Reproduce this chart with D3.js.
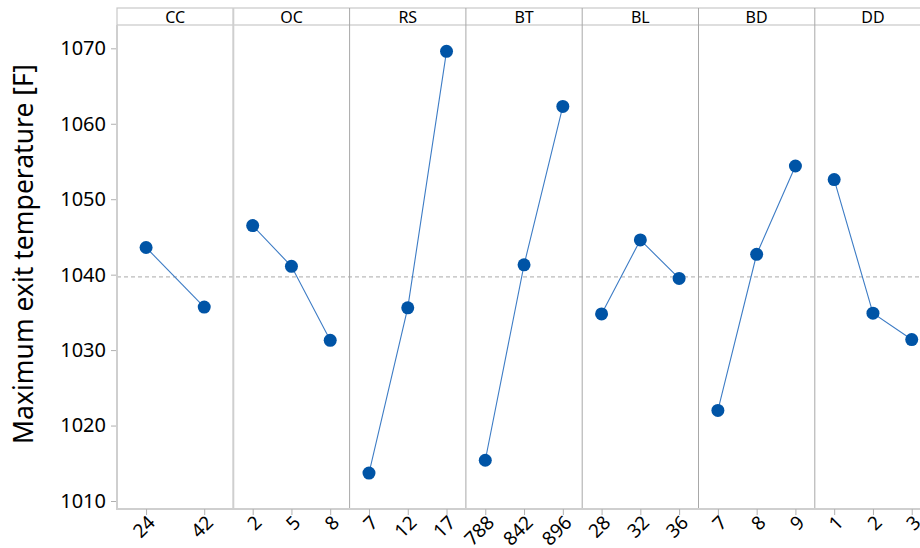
<!DOCTYPE html>
<html>
<head>
<meta charset="utf-8">
<script src="https://cdn.jsdelivr.net/npm/d3@7"></script>
<style>
  html, body { margin: 0; padding: 0; background: #fff; }
  svg { display: block; font-family: "Noto Sans", "Open Sans", sans-serif; }
</style>
</head>
<body>
<svg id="chart" width="920" height="548"></svg>
<script>
// Main effects of each factor on the maximum exit temperature
const factors = ["CC", "OC", "RS", "BT", "BL", "BD", "DD"];
const levelsCC = ["24", "42"];
const levelsOC = ["2", "5", "8"];
const levelsRS = ["7", "12", "17"];
const levelsBT = ["788", "842", "896"];
const levelsBL = ["28", "32", "36"];
const levelsBD = ["7", "8", "9"];
const levelsDD = ["1", "2", "3"];

const meansCC = [1043.6, 1035.7];
const meansOC = [1046.5, 1041.1, 1031.3];
const meansRS = [1013.7, 1035.6, 1069.6];
const meansBT = [1015.4, 1041.3, 1062.3];
const meansBL = [1034.8, 1044.6, 1039.5];
const meansBD = [1022.0, 1042.7, 1054.4];
const meansDD = [1052.6, 1034.9, 1031.4];

const grandMean = 1039.7;
const yTicks = [1010, 1020, 1030, 1040, 1050, 1060, 1070];
const yTitle = "Maximum exit temperature [F]";

const levelSets = [levelsCC, levelsOC, levelsRS, levelsBT, levelsBL, levelsBD, levelsDD];
const meanSets = [meansCC, meansOC, meansRS, meansBT, meansBL, meansBD, meansDD];
const panels = factors.map((f, i) => ({
  factor: f,
  points: levelSets[i].map((lv, j) => ({ level: lv, mean: meanSets[i][j] }))
}));

const svg = d3.select("#chart");
const plotLeft = 117, plotTop = 25, plotBottom = 509, stripTop = 8;
const panelW = 116.3;
const plotRight = plotLeft + panelW * factors.length;
const fontStack = "'Noto Sans', 'Open Sans', sans-serif";

const y = d3.scaleLinear().domain([1008.94, 1073.09]).range([plotBottom, plotTop]);
const px = d3.scaleBand().domain(factors).range([plotLeft, plotRight]).paddingInner(0).paddingOuter(0);

// Reference line at the overall mean
svg.append("line")
  .attr("x1", plotLeft).attr("x2", plotRight)
  .attr("y1", y(grandMean)).attr("y2", y(grandMean))
  .attr("stroke", "#aaaaaa").attr("stroke-width", 1)
  .attr("stroke-dasharray", "4,3");

// Strip header
svg.append("rect")
  .attr("x", plotLeft).attr("y", stripTop)
  .attr("width", plotRight - plotLeft).attr("height", plotTop - stripTop)
  .attr("fill", "#fff").attr("stroke", "#c8c8c8").attr("stroke-width", 1.2);

// Panel dividers
factors.slice(1).forEach((f, i) => {
  svg.append("line")
    .attr("x1", px(f)).attr("x2", px(f))
    .attr("y1", stripTop).attr("y2", plotBottom)
    .attr("stroke", i === 0 ? "#cfcfcf" : "#a8a8a8")
    .attr("stroke-width", i === 0 ? 2 : 1);
});

// Strip labels
svg.selectAll("text.strip").data(factors).join("text")
  .attr("class", "strip")
  .attr("x", d => px(d) + px.bandwidth() / 2)
  .attr("y", (stripTop + plotTop) / 2 + 0.5)
  .attr("dy", "0.36em")
  .attr("text-anchor", "middle")
  .attr("font-size", 16)
  .attr("fill", "#000")
  .text(d => d);

// Y axis
const yAxis = d3.axisLeft(y).tickValues(yTicks).tickSize(6).tickPadding(5).tickFormat(d3.format("d"));
const gy = svg.append("g").attr("transform", `translate(${plotLeft},0)`).call(yAxis);
gy.select(".domain").remove();
gy.selectAll(".tick line").attr("stroke", "#b0b0b0");
gy.selectAll(".tick text").attr("font-size", 20).attr("fill", "#000")
  .attr("font-family", fontStack);
svg.append("line")
  .attr("x1", plotLeft).attr("x2", plotLeft).attr("y1", plotTop).attr("y2", plotBottom + 1)
  .attr("stroke", "#cfcfcf").attr("stroke-width", 2);

// Bottom axis line
svg.append("line")
  .attr("x1", plotLeft - 1).attr("x2", plotRight).attr("y1", plotBottom).attr("y2", plotBottom)
  .attr("stroke", "#cfcfcf").attr("stroke-width", 2);

// Y title
svg.append("text")
  .attr("transform", `translate(33,${(plotTop + plotBottom) / 2 - 13}) rotate(-90)`)
  .attr("text-anchor", "middle")
  .attr("font-size", 26.5)
  .attr("fill", "#000")
  .text(yTitle);

// Panels
panels.forEach(p => {
  const x = d3.scalePoint().domain(p.points.map(d => d.level))
    .range([px(p.factor), px(p.factor) + px.bandwidth()]).padding(0.5);
  const g = svg.append("g");

  const xAxis = d3.axisBottom(x).tickSize(6).tickSizeOuter(0).tickPadding(0);
  const gx = g.append("g").attr("transform", `translate(0,${plotBottom})`).call(xAxis);
  gx.select(".domain").remove();
  gx.selectAll(".tick line").attr("stroke", "#b0b0b0");
  gx.selectAll(".tick text")
    .attr("font-size", 19).attr("fill", "#000")
    .attr("font-family", fontStack)
    .attr("text-anchor", "end")
    .attr("dy", "0.35em")
    .attr("transform", "translate(5,10) rotate(-45)")
    .attr("y", 0).attr("x", 0);

  g.append("path")
    .datum(p.points)
    .attr("fill", "none")
    .attr("stroke", "#3d7cc5")
    .attr("stroke-width", 1.1)
    .attr("d", d3.line().x(d => x(d.level)).y(d => y(d.mean)));

  g.selectAll("circle").data(p.points).join("circle")
    .attr("cx", d => x(d.level))
    .attr("cy", d => y(d.mean))
    .attr("r", 6.5)
    .attr("fill", "#0054a6");
});
</script>
</body>
</html>
